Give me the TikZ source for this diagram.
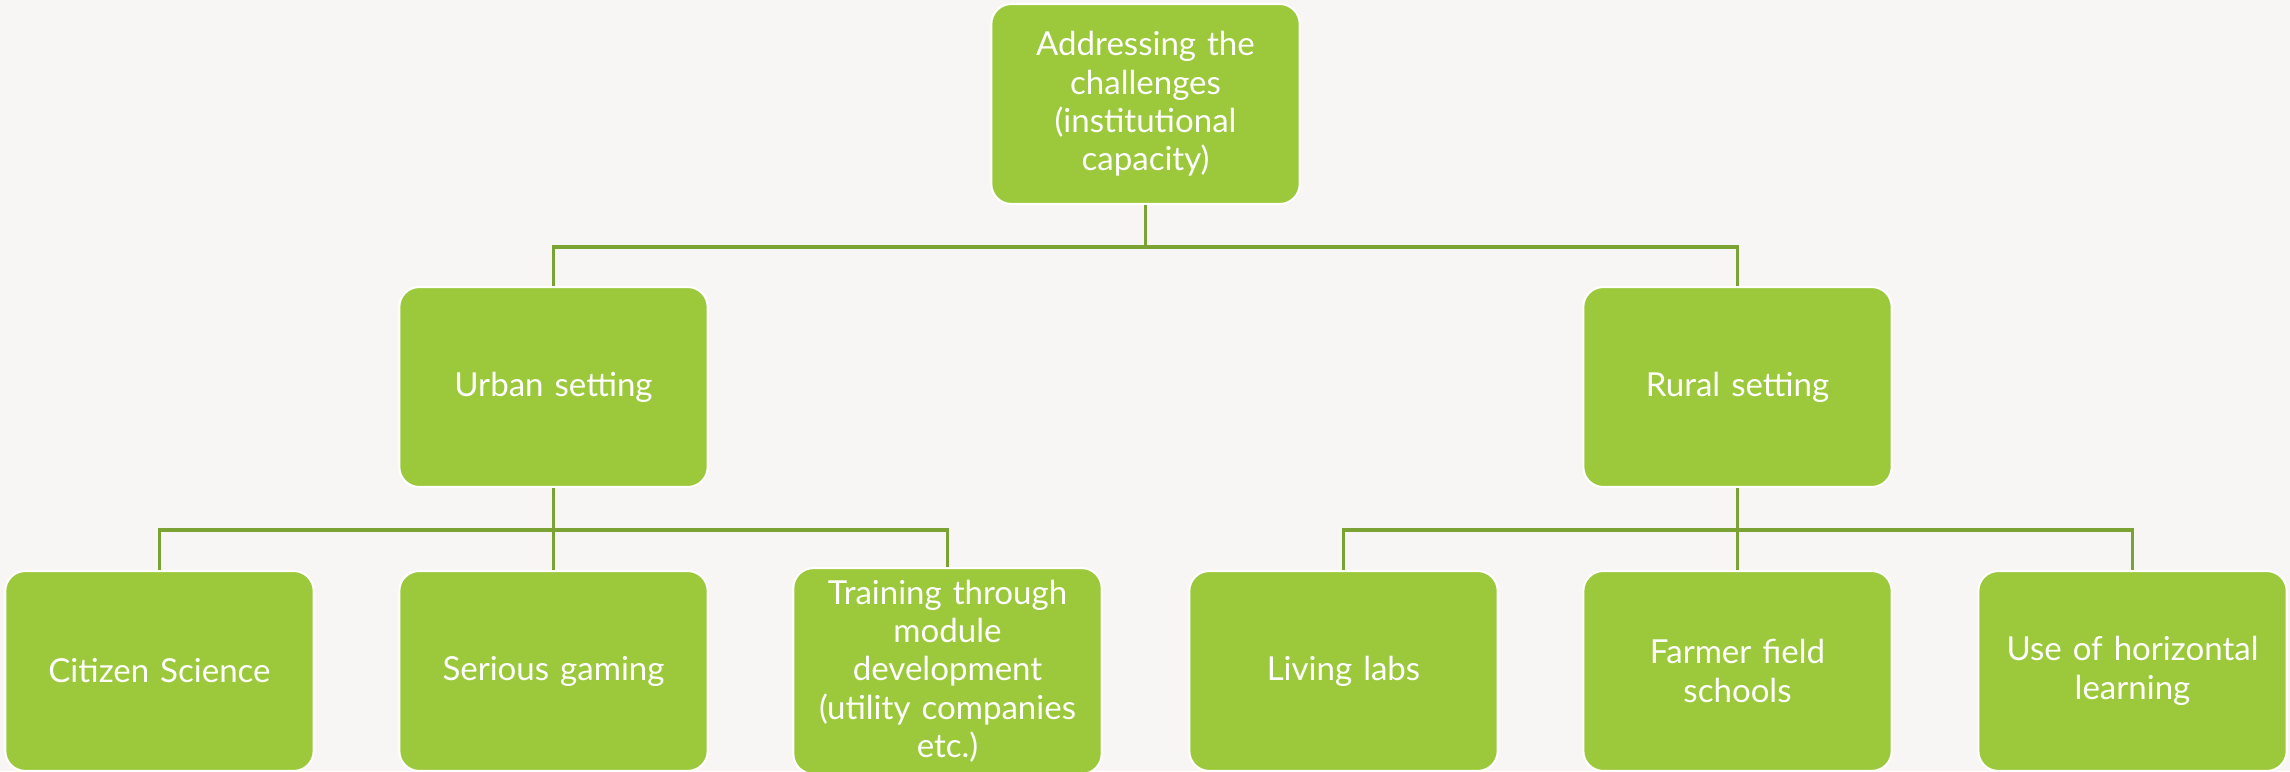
\documentclass[tikz,border=0pt]{standalone}
\usepackage{fontspec}
\setmainfont{Lato}
\definecolor{leaf}{RGB}{155,201,59}
\definecolor{stem}{RGB}{122,163,52}
\definecolor{paper}{RGB}{247,246,244}
\begin{document}
\begin{tikzpicture}[box/.style={draw=white, line width=.6pt, fill=leaf, rounded corners=.2cm,
    minimum width=3cm, minimum height=2cm, text width=2.85cm, align=center, text=white,
    font=\fontsize{9.4}{10.9}\selectfont},
  link/.style={draw=stem, line width=.9pt}]
\fill[paper] (0,0) rectangle (22.9,7.71);
\useasboundingbox (0,0) rectangle (22.9,7.71);
% top
\node[box] (root) at (11.455,6.67) {Addressing the\\challenges\\(institutional\\capacity)};
% middle row
\node[box] (urban) at (5.535,3.84) {Urban setting};
\node[box] (rural) at (17.375,3.84) {Rural setting};
% bottom row
\node[box] (cit) at (1.595,1) {Citizen Science};
\node[box] (game) at (5.535,1) {Serious gaming};
\node[box] (train) at (9.475,1) {Training through\\module\\development\\(utility companies\\etc.)};
\node[box] (lab) at (13.435,1) {Living labs};
\node[box] (farm) at (17.375,1) {Farmer field\\schools};
\node[box] (horiz) at (21.325,1) {Use of horizontal\\learning};
% connectors
\coordinate (j0) at (11.455,5.24);
\coordinate (ju) at (5.535,2.41);
\coordinate (jr) at (17.375,2.41);
\draw[link] (root.south) -- (j0) -| (urban.north);
\draw[link] (j0) -| (rural.north);
\draw[link] (urban.south) -- (ju);
\draw[link] (rural.south) -- (jr);
\foreach \c in {cit,game,train} \draw[link] (ju) -| (\c.north);
\foreach \c in {lab,farm,horiz} \draw[link] (jr) -| (\c.north);
\end{tikzpicture}
\end{document}
